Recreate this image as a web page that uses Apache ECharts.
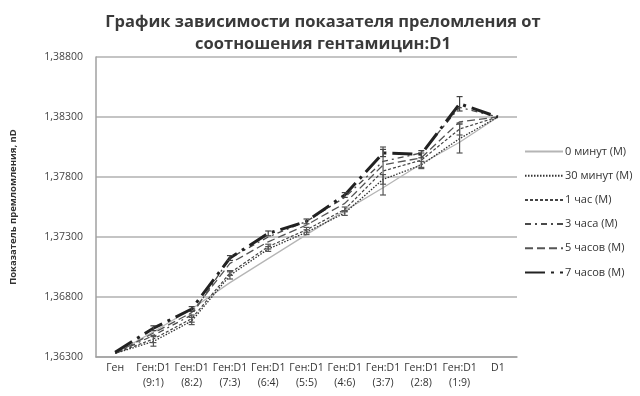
<!DOCTYPE html>
<html>
<head>
<meta charset="utf-8">
<script src="https://cdn.jsdelivr.net/npm/echarts@6/dist/echarts.min.js"></script>
<style>
  html, body { margin: 0; padding: 0; background: #fff; }
  #chart { width: 640px; height: 396px; }
</style>
</head>
<body>
<div id="chart"></div>
<script>
// Categories: gentamicin : D1 ratios
const categories = ['Ген', 'Ген:D1\n(9:1)', 'Ген:D1\n(8:2)', 'Ген:D1\n(7:3)', 'Ген:D1\n(6:4)',
  'Ген:D1\n(5:5)', 'Ген:D1\n(4:6)', 'Ген:D1\n(3:7)', 'Ген:D1\n(2:8)', 'Ген:D1\n(1:9)', 'D1'];

// Refractive index nD per time point
const min0  = [1.3633, 1.3651, 1.3670, 1.3692, 1.3712, 1.3732, 1.3752, 1.3771, 1.3791, 1.3809, 1.3830];
const min30 = [1.3633, 1.3643, 1.3660, 1.3698, 1.3720, 1.3734, 1.3750, 1.3778, 1.3790, 1.3812, 1.3830];
const hour1 = [1.3633, 1.3645, 1.3662, 1.3700, 1.3722, 1.3736, 1.3753, 1.3785, 1.3794, 1.3820, 1.3830];
const hour3 = [1.3633, 1.3648, 1.3665, 1.37125, 1.3730, 1.3743, 1.3763, 1.3793, 1.3800, 1.3838, 1.3830];
const hour5 = [1.3633, 1.3650, 1.3667, 1.3708, 1.3726, 1.3740, 1.3758, 1.3790, 1.3796, 1.3826, 1.3830];
const hour7 = [1.3634, 1.3654, 1.3670, 1.37125, 1.3733, 1.3743, 1.3765, 1.3800, 1.3799, 1.3841, 1.3830];

// Standard deviations (error bars)
const err30 = [0, 0.0004, 0.0003, 0.0003, 0.0002, 0.0002, 0.0002, 0.0004, 0.0003, 0.0012, 0];
const err1h = [0, 0.0003, 0.0003, 0.0002, 0.0002, 0.0002, 0.0002, 0.0020, 0.0006, 0.0005, 0];
const err7h = [0, 0.0002, 0.0002, 0.0002, 0.0002, 0.0002, 0.0002, 0.0003, 0.0003, 0.0006, 0];

// Y tick labels
const yTicks = ['1,36300', '1,36800', '1,37300', '1,37800', '1,38300', '1,38800'];

// Axis runs from BASE; values are plotted relative to it so ticks fall on 0.005 steps
const BASE = 1.363;
const rel = arr => arr.map(v => +(v - BASE).toFixed(6));

const seriesDefs = [
  { name: '0 минут (М)',  data: min0,  color: '#b5b5b5', width: 1.3, type: 'solid' },
  { name: '30 минут (М)', data: min30, color: '#333333', width: 1.3, type: [1.5, 1.5] },
  { name: '1 час (М)',    data: hour1, color: '#444444', width: 1.2, type: [3, 2] },
  { name: '3 часа (М)',   data: hour3, color: '#4a4a4a', width: 1.3, type: [6, 4, 2, 4] },
  { name: '5 часов (М)',  data: hour5, color: '#555555', width: 1.3, type: [8, 4] },
  { name: '7 часов (М)',  data: hour7, color: '#222222', width: 3,   type: [20, 6, 3, 6] }
];

function errorSeries(values, errs, color) {
  return {
    type: 'custom',
    silent: true,
    z: 5,
    data: values.map((v, i) => [i, v - BASE, errs[i]]),
    renderItem: function (params, api) {
      const e = api.value(2);
      if (!e) return null;
      const x = api.coord([api.value(0), api.value(1)])[0];
      const top = api.coord([api.value(0), api.value(1) + e])[1];
      const bot = api.coord([api.value(0), api.value(1) - e])[1];
      const c = 3;
      const st = { stroke: color, lineWidth: 1.2 };
      return {
        type: 'group',
        children: [
          { type: 'line', shape: { x1: x, y1: top, x2: x, y2: bot }, style: st },
          { type: 'line', shape: { x1: x - c, y1: top, x2: x + c, y2: top }, style: st },
          { type: 'line', shape: { x1: x - c, y1: bot, x2: x + c, y2: bot }, style: st }
        ]
      };
    }
  };
}

const chart = echarts.init(document.getElementById('chart'));

const series = seriesDefs.map(s => ({
  name: s.name,
  type: 'line',
  data: rel(s.data),
  symbol: 'none',
  color: s.color,
  lineStyle: { color: s.color, width: s.width, type: s.type },
  z: 3
}));
series.push(errorSeries(min30, err30, '#555'));
series.push(errorSeries(hour1, err1h, '#555'));
series.push(errorSeries(hour7, err7h, '#444'));

chart.setOption({
  animation: false,
  backgroundColor: '#ffffff',
  title: {
    text: 'График зависимости показателя преломления от\nсоотношения гентамицин:D1',
    left: 318,
    textAlign: 'center',
    top: 6,
    textStyle: {
      fontFamily: 'Open Sans',
      fontWeight: 'bold',
      fontSize: 16.5,
      color: '#3a3a3a',
      lineHeight: 22
    }
  },
  legend: {
    orient: 'vertical',
    left: 519,
    top: 141,
    itemWidth: 38,
    itemHeight: 10,
    itemGap: 13.2,
    itemStyle: { opacity: 0 },
    data: seriesDefs.map(s => s.name),
    textStyle: { fontFamily: 'Open Sans', fontSize: 11, color: '#333', padding: [0, 0, 0, -3] }
  },
  grid: { left: 90, right: 123, top: 57, bottom: 39 },
  xAxis: {
    type: 'category',
    data: categories,
    boundaryGap: true,
    axisLine: { lineStyle: { color: '#a0a0a0', width: 1.5 } },
    axisTick: { show: false },
    axisLabel: {
      interval: 0,
      fontFamily: 'Open Sans',
      fontSize: 10.5,
      color: '#333',
      lineHeight: 15,
      margin: 4
    }
  },
  yAxis: {
    type: 'value',
    min: 0,
    max: 0.025,
    interval: 0.005,
    name: 'Показатель премломления, nD',
    nameLocation: 'middle',
    nameGap: 78,
    nameTextStyle: { fontFamily: 'Open Sans', fontWeight: 'bold', fontSize: 9.5, color: '#333' },
    axisLine: { show: true, lineStyle: { color: '#a0a0a0', width: 1.5 } },
    axisTick: { show: false },
    splitLine: { lineStyle: { color: '#b0b0b0', width: 1.5 } },
    axisLabel: {
      fontFamily: 'Open Sans',
      fontSize: 10.5,
      color: '#444',
      margin: 13,
      formatter: v => yTicks[Math.round(v / 0.005)]
    }
  },
  series: series
});
</script>
</body>
</html>
